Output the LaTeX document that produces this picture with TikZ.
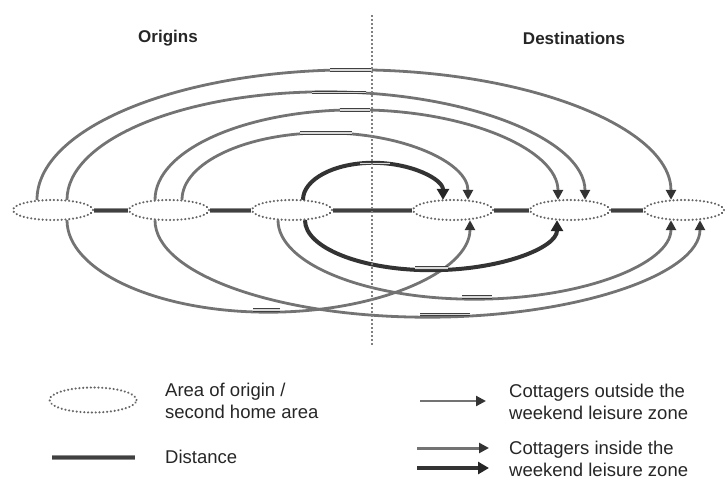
\documentclass[tikz,border=0pt]{standalone}
\usepackage{fontspec}
\setmainfont{Liberation Sans}
\usetikzlibrary{arrows.meta,calc,shapes.geometric}
\begin{document}
\begin{tikzpicture}[x=1pt,y=-1pt,
  area/.style={ellipse, draw=black!60, line width=2.4pt, dash pattern=on 0.01pt off 3.8pt, line cap=round, minimum width=80pt, minimum height=20pt, inner sep=0pt},
  distbar/.style={draw=black!45, line width=1pt, double=black!75, double distance=3pt},
  arcbar/.style={draw=black!75, line width=0.9pt, double=black!15, double distance=1.6pt},
  outflow/.style={draw=black!55, line width=2.8pt, -{Triangle[length=10pt,width=10pt,color=black!80]}},
  inflow/.style={draw=black!80, line width=4pt, -{Triangle[length=11pt,width=12pt,color=black!85]}},
  divider/.style={draw=black!50, line width=1.5pt, dash pattern=on 2pt off 2pt},
  harc/.style={to path={let \p1=(\tikztostart), \p2=(\tikztotarget) in
     .. controls (\x1,{\y1+0.5523*(#1)}) and ({\x1+(\x2-\x1)*0.2239},{\y1+(#1)}) .. ({(\x1+\x2)/2},{\y1+(#1)})
     .. controls ({\x2-(\x2-\x1)*0.2239},{\y1+(#1)}) and (\x2,{\y2+0.5523*(\y1+(#1)-\y2)}) .. (\x2,\y2)}},
  title/.style={font=\bfseries\fontsize{17}{20}\selectfont, text=black!85},
  legtext/.style={font=\fontsize{18.5}{22}\selectfont, text=black!85, align=left, anchor=west, inner sep=0pt}
]
\useasboundingbox (0,0) rectangle (725,479);

% titles
\node[title] (org) at (168,38) {Origins};
\node[title] (dst) at (574,38) {Destinations};

% areas
\node[area] (e1) at (53,210) {};
\node[area] (e2) at (169,210) {};
\node[area] (e3) at (292,210) {};
\node[area] (e4) at (453,210) {};
\node[area] (e5) at (570,210) {};
\node[area] (e6) at (684,210) {};

% distances between areas
\draw[distbar] (e1.east) -- (e2.west);
\draw[distbar] (e2.east) -- (e3.west);
\draw[distbar] (e3.east) -- (e4.west);
\draw[distbar] (e4.east) -- (e5.west);
\draw[distbar] (e5.east) -- (e6.west);

% upper flows
\draw[outflow] ($(e1.north)+(-16,1)$) to[harc=130] ($(e6.north)+(-13,1)$);
\draw[outflow] ($(e1.north)+(14,1)$) to[harc=108] ($(e5.north)+(15,1)$);
\draw[outflow] ($(e2.north)+(-14,1)$) to[harc=90] ($(e5.north)+(-12,1)$);
\draw[outflow] ($(e2.north)+(13,1)$) to[harc=67] ($(e4.north)+(15,1)$);
\draw[inflow] ($(e3.north)+(11,1)$) to[harc=37] ($(e4.north)+(-10,1)$);

% lower flows
\draw[outflow] ($(e1.south)+(14,-1)$) to[harc=-92] ($(e4.south)+(17,-1)$);
\draw[outflow] ($(e2.south)+(-14,-1)$) to[harc=-97] ($(e6.south)+(16,-1)$);
\draw[outflow] ($(e3.south)+(-14,-1)$) to[harc=-79] ($(e6.south)+(-13,-1)$);
\draw[inflow] ($(e3.south)+(13,-1)$) to[harc=-50] ($(e5.south)+(-13,-1)$);

% distance marks on the flows
\draw[arcbar] (330,70) -- (372,70);
\draw[arcbar] (312,92.5) -- (366,92.5);
\draw[arcbar] (340,110) -- (370,110);
\draw[arcbar] (300,133) -- (352,133);
\draw[arcbar] (360,163.5) -- (390,163.5);
\draw[arcbar] (253,310) -- (280,310);
\draw[arcbar] (420,314.5) -- (470,314.5);
\draw[arcbar] (462,297) -- (492,297);
\draw[arcbar] (415,268) -- (448,268);

% divider
\coordinate (vt) at (372,15);
\coordinate (vb) at (372,345);
\draw[divider] (vt) -- (vb);

% legend
\node[area, minimum width=87pt, minimum height=25pt] (lell) at (93,400) {};
\node[legtext] (lt1) at (165,401) {Area of origin /\\second home area};
\coordinate (ld1) at (52,457);
\coordinate (ld2) at (135,457);
\draw[distbar] (ld1) -- (ld2);
\node[legtext] (lt2) at (165,457) {Distance};
\coordinate (lo1) at (420,401);
\coordinate (lo2) at (486,401);
\draw[outflow, line width=2.2pt] (lo1) -- (lo2);
\node[legtext] (lt3) at (509,402) {Cottagers outside the\\weekend leisure zone};
\coordinate (li1) at (417,448);
\coordinate (li2) at (489,448);
\coordinate (li3) at (417,468);
\coordinate (li4) at (489,468);
\draw[outflow, line width=3pt] (li1) -- (li2);
\draw[inflow] (li3) -- (li4);
\node[legtext] (lt4) at (509,459) {Cottagers inside the\\weekend leisure zone};
\end{tikzpicture}
\end{document}
